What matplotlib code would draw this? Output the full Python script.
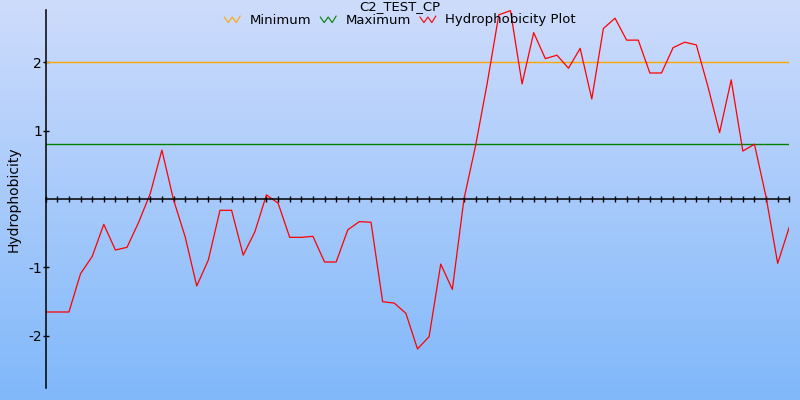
import numpy as np
import matplotlib
matplotlib.use('Agg')
import matplotlib.pyplot as plt
from matplotlib.lines import Line2D
from matplotlib.legend_handler import HandlerBase
from matplotlib.colors import LinearSegmentedColormap

title = 'C2_TEST_CP'
ylabel = 'Hydrophobicity'
min_level = 2.0
max_level = 0.80
hydro = [-1.65, -1.65, -1.65, -1.09, -0.84, -0.37, -0.745, -0.705, -0.34, 0.08,
         0.715, -0.01, -0.55, -1.27, -0.89, -0.165, -0.165, -0.82, -0.48, 0.06,
         -0.06, -0.56, -0.56, -0.545, -0.92, -0.92, -0.45, -0.33, -0.34, -1.50,
         -1.52, -1.67, -2.19, -2.01, -0.95, -1.32, 0.0, 0.78, 1.69, 2.69,
         2.75, 1.68, 2.43, 2.05, 2.10, 1.91, 2.20, 1.46, 2.49, 2.64,
         2.32, 2.32, 1.84, 1.84, 2.21, 2.29, 2.25, 1.64, 0.97, 1.74,
         0.70, 0.80, 0.03, -0.94, -0.41]
yticks = [-2, -1, 1, 2]
ytick_labels = ['-2', '-1', '1', '2']


class ZigZagHandler(HandlerBase):
    def create_artists(self, legend, orig_handle, xdescent, ydescent,
                       width, height, fontsize, trans):
        xs = np.array([0.0, 0.25, 0.5, 0.75, 1.0]) * width - xdescent
        ys = np.array([0.7, 0.1, 0.7, 0.1, 0.8]) * height - ydescent
        ln = Line2D(xs, ys, color=orig_handle.get_color(), lw=0.8, transform=trans)
        return [ln]


fig = plt.figure(figsize=(8, 4), dpi=100)

# background gradient over the whole figure
bg = fig.add_axes([0, 0, 1, 1], zorder=-10)
cmap = LinearSegmentedColormap.from_list('bg', ['#cedcfc', '#80b8fa'])
bg.imshow(np.linspace(0, 1, 256).reshape(-1, 1), aspect='auto', cmap=cmap,
          extent=[0, 1, 0, 1])
bg.axis('off')

ax = fig.add_axes([45.7 / 800, 12 / 400, (789.3 - 45.7) / 800, 378 / 400])
ax.patch.set_alpha(0)

x = np.arange(len(hydro))
l_min = ax.axhline(min_level, color='orange', lw=1)
l_max = ax.axhline(max_level, color='green', lw=1)
l_hyd, = ax.plot(x, hydro, color='red', lw=0.9)

ax.set_xlim(0, len(hydro) - 1)
ax.set_ylim(-2.76, 2.76)
ax.spines['top'].set_visible(False)
ax.spines['right'].set_visible(False)
ax.spines['bottom'].set_position(('data', 0))
ax.spines['left'].set_linewidth(1.1)
ax.spines['bottom'].set_linewidth(1.1)

ax.set_xticks(x)
ax.set_xticklabels([])
ax.set_yticks(yticks)
ax.set_yticklabels(ytick_labels)
ax.tick_params(axis='x', direction='inout', length=5, width=1)
ax.tick_params(axis='y', direction='inout', length=5, width=1, pad=0, labelsize=10)
ax.set_ylabel(ylabel, fontsize=10, labelpad=6)

fig.text(0.5, 1.0, title, ha='center', va='top', fontsize=9.5)
fig.legend([l_min, l_max, l_hyd], ['Minimum', 'Maximum', 'Hydrophobicity Plot'],
           handler_map={Line2D: ZigZagHandler()},
           loc='center', bbox_to_anchor=(0.5, 1 - 20 / 400), ncol=3, frameon=False,
           fontsize=9.5, handlelength=1.2, handletextpad=0.7, columnspacing=0.7,
           borderpad=0)

fig.savefig('out.png', dpi=100)
